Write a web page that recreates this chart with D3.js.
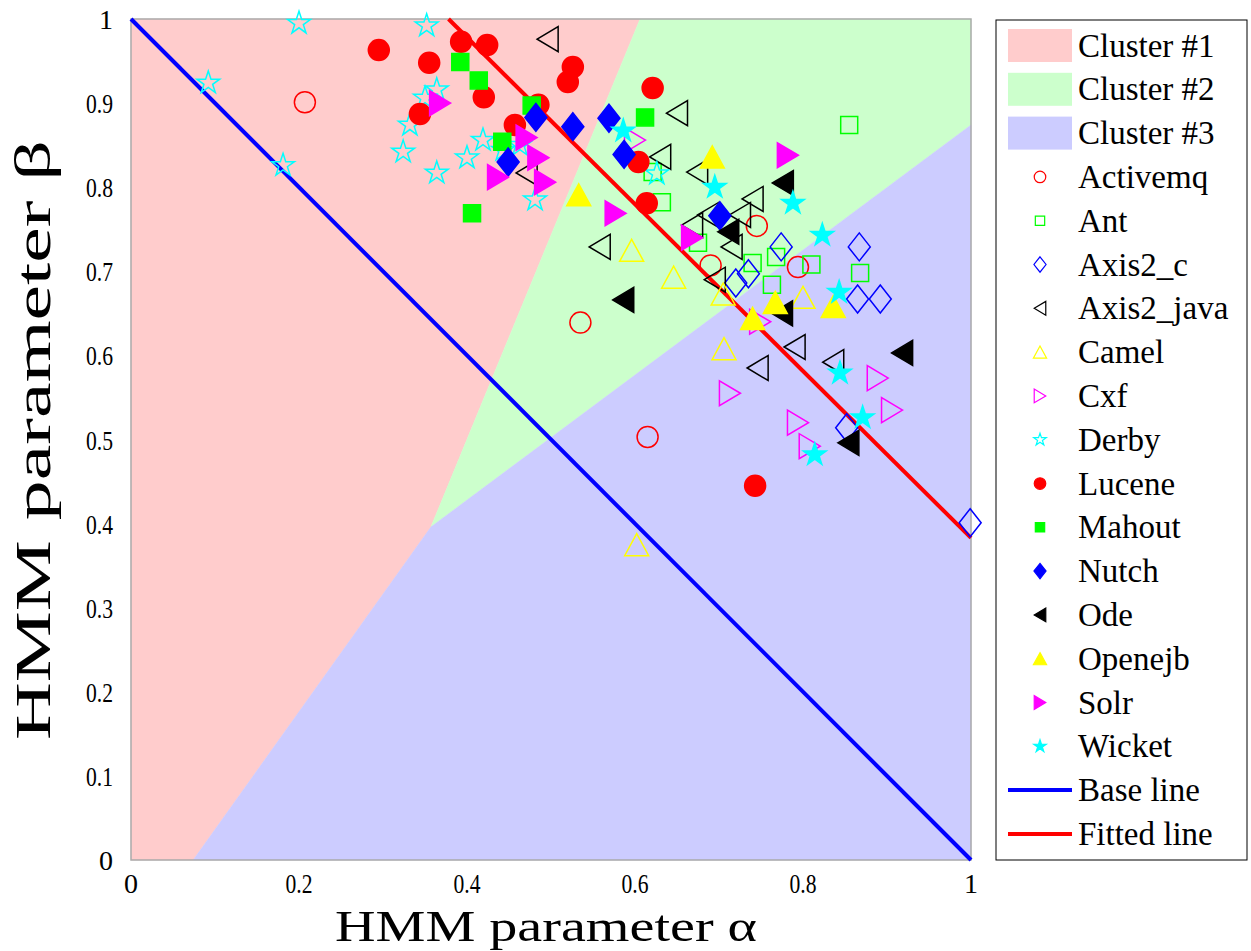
<!DOCTYPE html>
<html>
<head>
<meta charset="utf-8">
<script src="https://cdn.jsdelivr.net/npm/d3@7"></script>
<style>
  body { margin: 0; background: #fff; }
</style>
</head>
<body>
<div id="scatter"></div>
<script>
// Data (alpha, beta)
// ================================
var activemq = [[0.207, 0.901], [0.535, 0.639], [0.745, 0.754], [0.690, 0.707], [0.794, 0.705], [0.615, 0.503]];
var ant = [[0.855, 0.874], [0.621, 0.818], [0.632, 0.782], [0.675, 0.734], [0.740, 0.710], [0.768, 0.717], [0.810, 0.708], [0.868, 0.698], [0.763, 0.684]];
var axis2c = [[0.774, 0.729], [0.867, 0.729], [0.720, 0.686], [0.735, 0.697], [0.865, 0.667], [0.892, 0.667], [0.852, 0.514], [0.999, 0.401]];
var axis2java = [[0.496, 0.976], [0.650, 0.888], [0.630, 0.836], [0.471, 0.817], [0.674, 0.818], [0.740, 0.786], [0.725, 0.767], [0.687, 0.767], [0.668, 0.755], [0.715, 0.729], [0.695, 0.690], [0.558, 0.729], [0.790, 0.610], [0.746, 0.585], [0.836, 0.592]];
var camel = [[0.596, 0.725], [0.646, 0.693], [0.705, 0.673], [0.800, 0.669], [0.706, 0.608], [0.602, 0.375]];
var cxf = [[0.600, 0.856], [0.749, 0.640], [0.713, 0.555], [0.889, 0.573], [0.906, 0.535], [0.794, 0.520], [0.808, 0.492]];
var derby = [[0.200, 0.995], [0.092, 0.924], [0.181, 0.826], [0.352, 0.992], [0.364, 0.916], [0.350, 0.906], [0.332, 0.874], [0.324, 0.842], [0.364, 0.817], [0.400, 0.835], [0.419, 0.856], [0.443, 0.844], [0.463, 0.850], [0.481, 0.785], [0.626, 0.816]];
var lucene = [[0.295, 0.963], [0.393, 0.973], [0.424, 0.969], [0.355, 0.948], [0.526, 0.943], [0.520, 0.925], [0.420, 0.907], [0.344, 0.887], [0.485, 0.898], [0.457, 0.874], [0.621, 0.918], [0.604, 0.830], [0.614, 0.781], [0.743, 0.445]];
var mahout = [[0.392, 0.949], [0.414, 0.927], [0.477, 0.897], [0.442, 0.854], [0.406, 0.769], [0.612, 0.883]];
var nutch = [[0.482, 0.883], [0.526, 0.872], [0.449, 0.830], [0.569, 0.882], [0.587, 0.839], [0.701, 0.766]];
var ode = [[0.776, 0.805], [0.711, 0.747], [0.586, 0.666], [0.775, 0.650], [0.918, 0.603], [0.854, 0.496]];
var openejb = [[0.533, 0.791], [0.692, 0.836], [0.767, 0.663], [0.740, 0.644], [0.836, 0.658]];
var solr = [[0.368, 0.900], [0.471, 0.859], [0.485, 0.835], [0.437, 0.812], [0.493, 0.806], [0.577, 0.769], [0.668, 0.740], [0.782, 0.838]];
var wicket = [[0.586, 0.867], [0.695, 0.800], [0.788, 0.781], [0.823, 0.743], [0.843, 0.675], [0.844, 0.579], [0.871, 0.526], [0.814, 0.482]];

var projectNames = ["Activemq", "Ant", "Axis2_c", "Axis2_java", "Camel", "Cxf", "Derby", "Lucene", "Mahout", "Nutch", "Ode", "Openejb", "Solr", "Wicket"];

// cluster regions
var cluster1 = [[0, 0], [0.074, 0], [0.357, 0.396], [0.606, 1], [0, 1]];
var cluster2 = [[0.357, 0.396], [1, 0.874], [1, 1], [0.606, 1]];
var cluster3 = [[0.074, 0], [1, 0], [1, 0.874], [0.357, 0.396]];
var clusterNames = ["Cluster #1", "Cluster #2", "Cluster #3"];

var baseLine = [[0, 1], [1, 0]];
var fittedLine = [[0.378, 1], [1, 0.383]];

var xTicks = [0, 0.2, 0.4, 0.6, 0.8, 1];
var yTicks = [0, 0.1, 0.2, 0.3, 0.4, 0.5, 0.6, 0.7, 0.8, 0.9, 1];

// Set up our chart
// ================================
var svgWidth = 1251;
var svgHeight = 951;

var margin = { top: 19, right: 280, bottom: 91, left: 131 };
var width = 840;
var height = 841;

var serif = "Liberation Serif";

var svg = d3.select("#scatter")
  .append("svg")
  .attr("width", svgWidth)
  .attr("height", svgHeight)
  .attr("font-family", serif);

svg.append("rect").attr("width", svgWidth).attr("height", svgHeight).attr("fill", "#fff");

var chartGroup = svg.append("g")
  .attr("transform", `translate(${margin.left}, ${margin.top})`);

var xScale = d3.scaleLinear().domain([0, 1]).range([0, width]);
var yScale = d3.scaleLinear().domain([0, 1]).range([height, 0]);

// marker shapes (matlab style)
// ================================
function markerPath(shape, k) {
  var p = d3.path();
  if (shape == "o") {
    p.arc(0, 0, 10.5 * k, 0, 2 * Math.PI);
    p.closePath();
  } else if (shape == "s") {
    var h = 8.5 * k;
    p.rect(-h, -h, 2 * h, 2 * h);
  } else if (shape == "d") {
    var w = 11 * k, hh = 14 * k;
    p.moveTo(0, -hh); p.lineTo(w, 0); p.lineTo(0, hh); p.lineTo(-w, 0); p.closePath();
  } else if (shape == "<") {
    var a = 10.5 * k, b = 12.5 * k;
    p.moveTo(-a, 0); p.lineTo(a, -b); p.lineTo(a, b); p.closePath();
  } else if (shape == ">") {
    var a = 10.5 * k, b = 12.5 * k;
    p.moveTo(a, 0); p.lineTo(-a, -b); p.lineTo(-a, b); p.closePath();
  } else if (shape == "^") {
    var a = 12 * k, b = 11 * k;
    p.moveTo(0, -b); p.lineTo(a, b); p.lineTo(-a, b); p.closePath();
  } else if (shape == "p") {
    var R = 12 * k, r = R * 0.382;
    for (var i = 0; i < 10; i++) {
      var ang = -Math.PI / 2 + i * Math.PI / 5;
      var rr = i % 2 == 0 ? R : r;
      if (i == 0) p.moveTo(rr * Math.cos(ang), rr * Math.sin(ang));
      else p.lineTo(rr * Math.cos(ang), rr * Math.sin(ang));
    }
    p.closePath();
  }
  return p.toString();
}

var seriesData = [activemq, ant, axis2c, axis2java, camel, cxf, derby, lucene, mahout, nutch, ode, openejb, solr, wicket];
var seriesShape = ["o", "s", "d", "<", "^", ">", "p", "o", "s", "d", "<", "^", ">", "p"];
var seriesColor = ["#ff0000", "#00ff00", "#0000ff", "#000000", "#ffff00", "#ff00ff", "#00ffff",
                   "#ff0000", "#00ff00", "#0000ff", "#000000", "#ffff00", "#ff00ff", "#00ffff"];

var series = projectNames.map(function(name, i) {
  return { name: name, points: seriesData[i], shape: seriesShape[i], color: seriesColor[i], filled: i >= 7 };
});

// cluster areas
// ================================
var clusters = [
  { name: clusterNames[0], pts: cluster1, color: "#ffcccc" },
  { name: clusterNames[1], pts: cluster2, color: "#ccffcc" },
  { name: clusterNames[2], pts: cluster3, color: "#ccccff" }
];

var areaLine = d3.line().x(d => xScale(d[0])).y(d => yScale(d[1]));

chartGroup.selectAll(".cluster")
  .data(clusters)
  .enter()
  .append("path")
  .attr("class", "cluster")
  .attr("d", d => areaLine(d.pts) + "Z")
  .attr("fill", d => d.color)
  .attr("stroke", d => d.color)
  .attr("stroke-width", 0.5);

// frame
chartGroup.append("rect")
  .attr("width", width)
  .attr("height", height)
  .attr("fill", "none")
  .attr("stroke", "#aaaaaa")
  .attr("stroke-width", 1.5);

// lines
chartGroup.append("path")
  .attr("d", areaLine(baseLine))
  .attr("stroke", "#0000ff")
  .attr("stroke-width", 4)
  .attr("fill", "none");

chartGroup.append("path")
  .attr("d", areaLine(fittedLine))
  .attr("stroke", "#ff0000")
  .attr("stroke-width", 4)
  .attr("fill", "none");

// points
// ================================
series.forEach(function(s) {
  chartGroup.selectAll(null)
    .data(s.points)
    .enter()
    .append("path")
    .attr("transform", d => `translate(${xScale(d[0])}, ${yScale(d[1])})`)
    .attr("d", markerPath(s.shape, 1))
    .attr("fill", s.filled ? s.color : "none")
    .attr("stroke", s.color)
    .attr("stroke-width", 1.5);
});

// axes labels
// ================================
var fmt = d3.format("~g");

chartGroup.selectAll(".xtick")
  .data(xTicks)
  .enter()
  .append("text")
  .attr("font-family", serif)
  .attr("x", d => xScale(d))
  .attr("y", height + 33)
  .attr("text-anchor", "middle")
  .attr("font-size", "28px")
  .attr("textLength", d => fmt(d).length > 1 ? 27 : null)
  .attr("lengthAdjust", "spacingAndGlyphs")
  .text(d => fmt(d));

chartGroup.selectAll(".ytick")
  .data(yTicks)
  .enter()
  .append("text")
  .attr("font-family", serif)
  .attr("x", -18)
  .attr("y", d => yScale(d) + 10)
  .attr("text-anchor", "end")
  .attr("font-size", "28px")
  .attr("textLength", d => fmt(d).length > 1 ? 27 : null)
  .attr("lengthAdjust", "spacingAndGlyphs")
  .text(d => fmt(d));

svg.append("text")
  .attr("font-family", serif)
  .attr("x", 546)
  .attr("y", 941)
  .attr("text-anchor", "middle")
  .attr("font-size", "44px")
  .attr("textLength", 422)
  .attr("lengthAdjust", "spacingAndGlyphs")
  .text("HMM parameter α");

svg.append("text")
  .attr("font-family", serif)
  .attr("transform", "translate(50, 440) rotate(-90)")
  .attr("text-anchor", "middle")
  .attr("font-size", "50px")
  .attr("textLength", 600)
  .attr("lengthAdjust", "spacingAndGlyphs")
  .text("HMM parameter β");

// legend
// ================================
var legend = svg.append("g");
legend.append("rect")
  .attr("x", 996)
  .attr("y", 20)
  .attr("width", 251)
  .attr("height", 840)
  .attr("fill", "#fff")
  .attr("stroke", "#000")
  .attr("stroke-width", 1);

var rowY = d => 45.5 + d * 43.8;

clusters.forEach(function(c, i) {
  legend.append("rect")
    .attr("x", 1008).attr("y", rowY(i) - 16.5)
    .attr("width", 64).attr("height", 33)
    .attr("fill", c.color);
  legend.append("text")
    .attr("font-family", serif)
    .attr("x", 1078).attr("y", rowY(i) + 11)
    .attr("font-size", "33px")
    .text(c.name);
});

series.forEach(function(s, i) {
  var yy = rowY(i + 3);
  legend.append("path")
    .attr("transform", `translate(1040, ${yy})`)
    .attr("d", markerPath(s.shape, 0.55))
    .attr("fill", s.filled ? s.color : "none")
    .attr("stroke", s.color)
    .attr("stroke-width", 1.2);
  legend.append("text")
    .attr("font-family", serif)
    .attr("x", 1078).attr("y", yy + 11)
    .attr("font-size", "33px")
    .text(s.name);
});

[["Base line", "#0000ff"], ["Fitted line", "#ff0000"]].forEach(function(l, i) {
  var yy = rowY(i + 17);
  legend.append("line")
    .attr("x1", 1008).attr("x2", 1072)
    .attr("y1", yy).attr("y2", yy)
    .attr("stroke", l[1]).attr("stroke-width", 4);
  legend.append("text")
    .attr("font-family", serif)
    .attr("x", 1078).attr("y", yy + 11)
    .attr("font-size", "33px")
    .text(l[0]);
});
</script>
</body>
</html>
